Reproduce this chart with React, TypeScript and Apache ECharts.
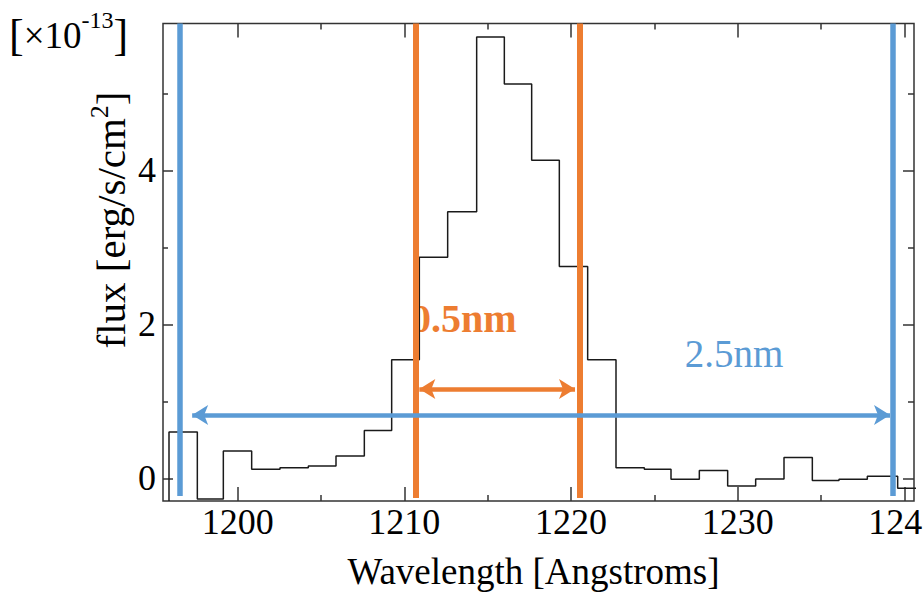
import React, { useEffect, useRef } from 'react';
import * as echarts from 'echarts';

// ---- data ----
const binEdges = [
  1195.88, 1197.58, 1199.14, 1200.84, 1202.54, 1204.24, 1205.9, 1207.6, 1209.24,
  1210.9, 1212.6, 1214.34, 1216.0, 1217.64, 1219.3, 1221.0, 1222.7, 1224.4,
  1226.0, 1227.7, 1229.4, 1231.08, 1232.78, 1234.48, 1236.08, 1237.78, 1239.6, 1241.3,
];
const fluxValues = [
  0.6, -0.27, 0.355, 0.117, 0.138, 0.16, 0.29, 0.62, 1.54,
  2.87, 3.46, 5.73, 5.12, 4.13, 2.75, 1.54, 0.138, 0.117,
  -0.013, 0.1, -0.1, -0.01, 0.27, -0.03, -0.013, 0.025, -0.13,
];
const xMajorTicks = [1200, 1210, 1220, 1230, 1240];
const xMinorTicks = [1205, 1215, 1225, 1235];
const yMajorTicks = [0, 2, 4];
const yMinorTicks = [1, 3, 5];
const X_MIN = 1195.52;
const X_MAX = 1240.58;
const Y_MIN = -0.295;
const Y_MAX = 5.906;

const blueMarkers = [1196.55, 1239.33];
const orangeMarkers = [1210.68, 1220.54];
const blueArrow = [1197.27, 1239.14];
const blueArrowY = 0.822;
const orangeArrow = [1210.9, 1220.24];
const orangeArrowY = 1.16;

const BLUE = '#5B9BD5';
const ORANGE = '#ED7D31';
const SERIF = '"Liberation Serif", "Times New Roman", Times, serif';
const AX = '#333';

function xAxisDef(position: string, ticks: number[], len: number, labels: boolean) {
  return {
    type: 'value',
    min: X_MIN,
    max: X_MAX,
    position,
    axisLine: { show: false, onZero: false },
    splitLine: { show: false },
    axisTick: { show: true, inside: true, length: len, customValues: ticks, lineStyle: { color: AX, width: 1.5 } },
    axisLabel: labels
      ? { show: true, customValues: ticks, margin: 3, fontSize: 36, fontFamily: SERIF, color: '#000', formatter: (v: number) => String(v) }
      : { show: false },
  };
}
function yAxisDef(position: string, ticks: number[], len: number, labels: boolean) {
  return {
    type: 'value',
    min: Y_MIN,
    max: Y_MAX,
    position,
    axisLine: { show: false, onZero: false },
    splitLine: { show: false },
    axisTick: { show: true, inside: true, length: len, customValues: ticks, lineStyle: { color: AX, width: 1.5 } },
    axisLabel: labels
      ? { show: true, customValues: ticks, margin: 7, fontSize: 36, fontFamily: SERIF, color: '#000', formatter: (v: number) => String(v) }
      : { show: false },
  };
}

export default function App() {
  const ref = useRef<HTMLDivElement>(null);
  useEffect(() => {
    if (!ref.current) return;
    const chart = echarts.init(ref.current, null, { renderer: 'svg' });

    const n = fluxValues.length;
    const stepData: number[][] = [[binEdges[0], Y_MIN]];
    for (let i = 0; i < n; i++) stepData.push([binEdges[i], fluxValues[i]]);
    stepData.push([binEdges[n], fluxValues[n - 1]]);

    const vLine = (x: number, color: string, width: number, bottom: number) => [
      { coord: [x, bottom], symbol: 'none', lineStyle: { color, width, type: 'solid' } },
      { coord: [x, Y_MAX], symbol: 'none' },
    ];
    const arrow = (xs: number[], y: number, color: string) => [
      { coord: [xs[0], y], symbol: 'arrow', symbolSize: [15, 16], lineStyle: { color, width: 4.5, type: 'solid' } },
      { coord: [xs[1], y], symbol: 'arrow', symbolSize: [15, 16] },
    ];

    chart.setOption({
      animation: false,
      grid: {
        left: 163, top: 23.5, right: 9, bottom: 95,
        show: true, borderColor: AX, borderWidth: 1.5, backgroundColor: 'transparent',
        containLabel: false, outerBoundsMode: 'none',
      },
      xAxis: [
        xAxisDef('bottom', xMajorTicks, 14, true),
        xAxisDef('bottom', xMinorTicks, 6, false),
        xAxisDef('top', xMajorTicks, 14, false),
        xAxisDef('top', xMinorTicks, 6, false),
      ],
      yAxis: [
        yAxisDef('left', yMajorTicks, 10, true),
        yAxisDef('left', yMinorTicks, 5, false),
        yAxisDef('right', yMajorTicks, 11, false),
        yAxisDef('right', yMinorTicks, 6, false),
      ],
      series: [
        {
          type: 'line',
          xAxisIndex: 0,
          yAxisIndex: 0,
          data: stepData,
          step: 'end',
          symbol: 'none',
          showSymbol: false,
          clip: true,
          silent: true,
          lineStyle: { color: '#1a1a1a', width: 1.5 },
          markLine: {
            silent: true,
            animation: false,
            symbol: 'none',
            label: { show: false },
            emphasis: { disabled: true },
            data: [
              vLine(blueMarkers[0], BLUE, 5.5, -0.23),
              vLine(blueMarkers[1], BLUE, 5.5, -0.23),
              vLine(orangeMarkers[0], ORANGE, 6, -0.256),
              vLine(orangeMarkers[1], ORANGE, 6, -0.256),
              arrow(blueArrow, blueArrowY, BLUE),
              arrow(orangeArrow, orangeArrowY, ORANGE),
            ],
          },
        },
      ],
      graphic: {
        elements: [
          {
            type: 'text', x: 9, y: 35.5, z: 0,
            style: {
              text: '{b|[}{a|×10}{s|-13}{b|]}',
              align: 'left', verticalAlign: 'middle',
              rich: {
                a: { fontSize: 37, fontFamily: SERIF, fill: '#000' },
                b: { fontSize: 44, fontFamily: SERIF, fill: '#000' },
                s: { fontSize: 24, fontFamily: SERIF, fill: '#000', padding: [0, 0, 31, 0] },
              },
            },
          },
          {
            type: 'text', x: 111, y: 220, rotation: Math.PI / 2, z: 0,
            style: {
              text: '{a|flux [erg/s/cm}{s|2}{a|]}',
              align: 'center', verticalAlign: 'middle',
              rich: {
                a: { fontSize: 41, fontFamily: SERIF, fill: '#000' },
                s: { fontSize: 26, fontFamily: SERIF, fill: '#000', padding: [0, 0, 24, 0] },
              },
            },
          },
          {
            type: 'text', x: 533.5, y: 571.5, z: 0,
            style: { text: 'Wavelength [Angstroms]', fontSize: 37, fontFamily: SERIF, fill: '#000', align: 'center', verticalAlign: 'middle' },
          },
          {
            type: 'text', x: 411, y: 318.2, z: 0,
            style: { text: '0.5nm', fontSize: 40, fontWeight: 'bold', fontFamily: SERIF, fill: ORANGE, align: 'left', verticalAlign: 'middle' },
          },
          {
            type: 'rect', z: 1,
            shape: { x: 398, y: 298, width: 16, height: 42 },
            style: { fill: '#fff' },
          },
          {
            type: 'text', x: 734, y: 353.5, z: 0,
            style: { text: '2.5nm', fontSize: 39, fontFamily: SERIF, fill: BLUE, align: 'center', verticalAlign: 'middle' },
          },
        ],
      },
    });
    return () => chart.dispose();
  }, []);
  return <div ref={ref} style={{ position: 'fixed', left: 0, top: 0, width: 923, height: 596, background: '#fff' }} />;
}
